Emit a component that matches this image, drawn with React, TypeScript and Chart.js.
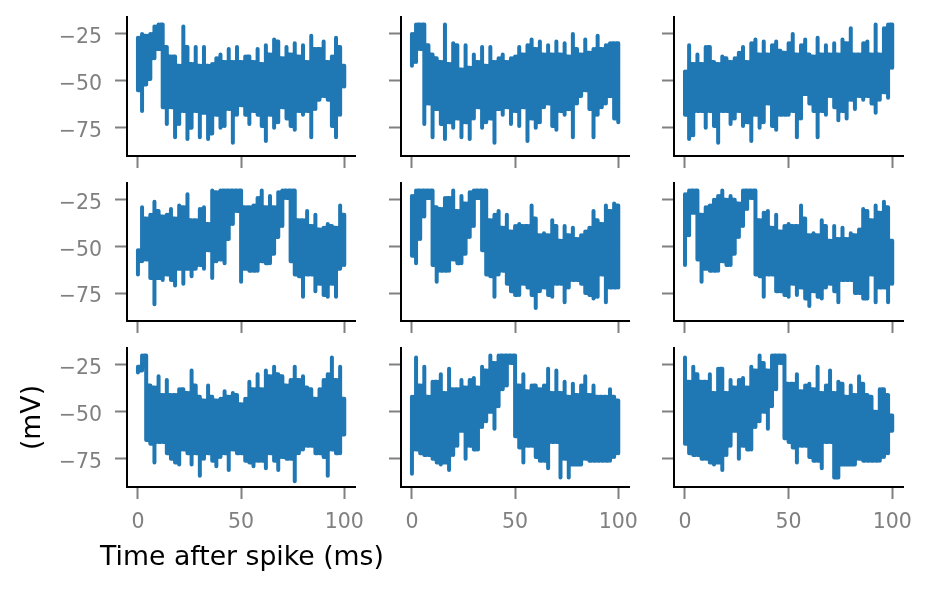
import React, { useEffect, useRef } from "react";
import { Chart, registerables } from "chart.js";

Chart.register(...registerables);

const xTicks = [0, 50, 100];
const yTicks = [-75, -50, -25];
const xTitle = "Time after spike (ms)";
const yTitle = "(mV)";

const p1Hi = [-27,-25,-26,-25,-21,-20,-20,-32,-37,-37,-42,-21,-32,-41,-32,-42,-32,-42,-41,-38,-36,-40,-33,-40,-32,-40,-37,-37,-40,-33,-41,-31,-36,-28,-29,-38,-32,-36,-30,-37,-31,-40,-26,-33,-33,-29,-40,-37,-27,-32,-42];
const p1Lo = [-55,-66,-52,-49,-38,-33,-64,-73,-64,-80,-73,-66,-81,-75,-66,-80,-67,-81,-78,-68,-75,-74,-65,-83,-68,-63,-68,-73,-66,-68,-74,-82,-68,-75,-72,-64,-70,-74,-76,-66,-68,-66,-80,-65,-60,-58,-60,-74,-80,-68,-53];
const p2Hi = [-25,-20,-20,-20,-31,-36,-38,-40,-20,-41,-30,-31,-44,-31,-43,-36,-40,-32,-42,-32,-40,-38,-36,-40,-38,-37,-32,-36,-31,-28,-33,-29,-36,-31,-36,-29,-36,-30,-37,-25,-33,-36,-28,-35,-33,-26,-33,-31,-30,-30,-30];
const p2Lo = [-42,-40,-33,-73,-62,-80,-65,-73,-81,-72,-75,-70,-80,-72,-81,-70,-64,-75,-72,-70,-83,-65,-68,-64,-73,-66,-74,-64,-82,-70,-75,-72,-64,-62,-74,-76,-66,-68,-65,-80,-62,-58,-55,-65,-80,-68,-64,-62,-58,-70,-72];
const p3Hi = [-45,-31,-41,-36,-41,-32,-32,-40,-41,-37,-38,-40,-38,-35,-32,-40,-30,-28,-36,-29,-36,-31,-29,-34,-35,-30,-25,-36,-31,-28,-36,-37,-27,-36,-31,-36,-30,-36,-28,-30,-22,-36,-36,-30,-29,-36,-20,-36,-22,-20,-20];
const p3Lo = [-68,-81,-79,-66,-66,-75,-66,-74,-83,-66,-66,-73,-70,-66,-74,-72,-82,-68,-75,-72,-62,-74,-76,-68,-68,-68,-66,-80,-70,-57,-62,-66,-80,-66,-68,-58,-64,-71,-66,-70,-60,-65,-58,-60,-58,-62,-67,-60,-56,-59,-43];
const p4Hi = [-52,-29,-35,-33,-26,-31,-34,-33,-30,-35,-28,-29,-22,-36,-36,-30,-29,-38,-20,-21,-20,-20,-20,-20,-20,-20,-29,-29,-28,-24,-20,-29,-23,-29,-21,-20,-20,-20,-20,-36,-36,-31,-39,-33,-41,-40,-38,-39,-40,-28,-33];
const p4Lo = [-65,-58,-57,-67,-81,-67,-68,-65,-68,-71,-62,-70,-62,-66,-62,-60,-62,-52,-67,-58,-57,-59,-46,-38,-31,-69,-62,-63,-63,-63,-58,-59,-59,-54,-45,-39,-24,-58,-65,-66,-77,-65,-65,-74,-70,-76,-77,-70,-77,-62,-60];
const p5Hi = [-23,-20,-20,-20,-20,-20,-29,-30,-24,-24,-20,-31,-23,-27,-21,-20,-20,-20,-20,-36,-33,-31,-40,-33,-42,-39,-38,-39,-39,-28,-35,-44,-43,-44,-36,-39,-47,-39,-44,-40,-46,-44,-42,-40,-31,-36,-38,-28,-31,-27,-28];
const p5Lo = [-55,-59,-46,-34,-24,-60,-69,-63,-63,-63,-57,-59,-59,-54,-45,-39,-24,-52,-65,-66,-77,-65,-63,-70,-74,-76,-76,-70,-72,-76,-83,-74,-72,-76,-77,-70,-70,-80,-72,-68,-68,-70,-75,-76,-78,-77,-65,-80,-72,-72,-72];
const p6Hi = [-22,-20,-20,-20,-33,-29,-28,-25,-23,-20,-25,-23,-25,-27,-20,-20,-20,-20,-36,-32,-31,-40,-33,-42,-39,-38,-39,-39,-28,-35,-44,-43,-44,-36,-39,-47,-39,-46,-40,-46,-43,-44,-41,-30,-31,-36,-28,-32,-26,-29,-47];
const p6Lo = [-60,-44,-32,-57,-69,-62,-63,-63,-63,-58,-60,-60,-54,-45,-39,-30,-24,-65,-66,-77,-65,-65,-74,-74,-76,-77,-70,-76,-72,-78,-82,-74,-77,-78,-72,-70,-74,-80,-68,-68,-68,-75,-75,-78,-78,-65,-80,-72,-72,-80,-70];
const p7Hi = [-28,-20,-20,-36,-37,-31,-41,-33,-41,-41,-38,-38,-40,-28,-36,-42,-44,-36,-42,-44,-43,-39,-42,-40,-41,-46,-43,-34,-38,-30,-38,-28,-31,-26,-30,-31,-36,-33,-26,-33,-31,-37,-38,-43,-38,-33,-30,-21,-33,-26,-43];
const p7Lo = [-29,-26,-65,-67,-77,-66,-66,-72,-75,-77,-78,-70,-72,-78,-72,-84,-75,-72,-76,-79,-74,-72,-81,-70,-72,-72,-76,-77,-79,-76,-76,-80,-72,-76,-81,-74,-75,-75,-87,-72,-70,-68,-68,-72,-72,-74,-84,-70,-72,-72,-62];
const p8Hi = [-42,-21,-36,-26,-42,-34,-34,-30,-40,-27,-38,-38,-33,-37,-33,-32,-37,-26,-28,-20,-24,-20,-20,-20,-20,-20,-36,-30,-39,-36,-36,-38,-36,-27,-40,-28,-40,-34,-42,-35,-41,-36,-31,-41,-36,-42,-42,-42,-38,-42,-44];
const p8Lo = [-83,-70,-72,-73,-73,-75,-77,-78,-77,-81,-73,-68,-60,-75,-68,-70,-70,-58,-55,-50,-59,-47,-38,-36,-24,-63,-69,-77,-68,-68,-74,-76,-76,-80,-66,-66,-85,-75,-85,-78,-78,-78,-75,-76,-76,-76,-76,-76,-76,-74,-72];
const p9Hi = [-21,-34,-26,-30,-34,-34,-30,-40,-27,-27,-40,-33,-37,-33,-32,-37,-26,-28,-20,-24,-28,-20,-20,-20,-20,-35,-35,-30,-39,-36,-35,-38,-26,-40,-36,-28,-40,-34,-35,-42,-36,-41,-31,-35,-41,-42,-50,-38,-38,-41,-52];
const p9Lo = [-67,-72,-73,-73,-75,-75,-77,-78,-77,-81,-73,-68,-60,-75,-68,-70,-70,-58,-55,-50,-59,-47,-38,-24,-64,-66,-69,-77,-68,-68,-74,-76,-76,-80,-66,-66,-85,-85,-78,-78,-78,-78,-75,-76,-76,-76,-76,-76,-74,-72,-60];

const panels = [
  [p1Hi, p1Lo], [p2Hi, p2Lo], [p3Hi, p3Lo],
  [p4Hi, p4Lo], [p5Hi, p5Lo], [p6Hi, p6Lo],
  [p7Hi, p7Lo], [p8Hi, p8Lo], [p9Hi, p9Lo],
];

const colLeft = [127, 401, 674];
const colRight = [355, 629, 903];
const rowTop = [17, 183, 348];
const rowBottom = [156, 321, 487];
const FONT = "'DejaVu Sans', sans-serif";
const GREY = "#808080";
const BLUE = "#1f77b4";

// Each reading is one tall excursion; the gap to the next is filled up to the
// range that both neighbours share, as a densely sampled trace would appear.
function trace(hi: number[], lo: number[]) {
  const pts: { x: number; y: number }[] = [];
  hi.forEach((h, i) => {
    const x = i * 2;
    pts.push({ x, y: h }, { x, y: lo[i] });
    if (i + 1 < hi.length) {
      const topMid = Math.min(h, hi[i + 1]);
      const botMid = Math.max(lo[i], lo[i + 1]);
      pts.push({ x, y: botMid }, { x: x + 1, y: botMid }, { x: x + 1, y: topMid }, { x: x + 2, y: topMid });
    }
  });
  return pts;
}

const xTitlePlugin = {
  id: "xTitleText",
  afterDraw(chart: any) {
    const { ctx, scales } = chart;
    const x = (scales.x.left + scales.x.right) / 2 + 1;
    ctx.save();
    ctx.font = `26.7px ${FONT}`;
    ctx.fillStyle = "#000";
    ctx.textAlign = "center";
    ctx.textBaseline = "middle";
    ctx.fillText(xTitle, x, scales.x.top + 71);
    ctx.restore();
  },
};

function Panel({ index }: { index: number }) {
  const ref = useRef<HTMLCanvasElement>(null);
  const c = index % 3;
  const r = Math.floor(index / 3);
  const ml = c === 0 ? 127 : 30;
  const mt = 10;
  const mr = 35;
  const plotW = colRight[c] - colLeft[c];
  const plotH = rowBottom[r] - rowTop[r];
  const mb = r === 2 ? 592 - rowBottom[r] : 20;
  const width = ml + plotW + mr;
  const height = mt + plotH + mb;
  const showX = r === 2;
  const showY = c === 0;
  const first = index === 6;

  useEffect(() => {
    const [hi, lo] = panels[index];
    const chart = new Chart(ref.current!, {
      type: "line",
      plugins: first ? [xTitlePlugin] : [],
      data: {
        datasets: [
          {
            data: trace(hi, lo),
            borderColor: BLUE,
            borderWidth: 4,
            pointRadius: 0,
            tension: 0,
            fill: false,
            borderCapStyle: "round",
            borderJoinStyle: "round",
            clip: false,
          },
        ],
      },
      options: {
        responsive: false,
        animation: false,
        events: [],
        layout: { autoPadding: false, padding: { top: mt, right: mr, left: 0, bottom: 0 } },
        plugins: { legend: { display: false }, tooltip: { enabled: false } },
        scales: {
          x: {
            type: "linear",
            min: -5.3,
            max: 105.2,
            afterBuildTicks: (s: any) => {
              s.ticks = xTicks.map((value) => ({ value }));
            },
            afterFit: (s: any) => {
              s.height = mb;
              s.paddingLeft = 0;
              s.paddingRight = 0;
            },
            border: { color: "#000", width: 2 },
            grid: { drawOnChartArea: false, drawTicks: true, tickLength: 12, tickColor: GREY, tickWidth: 2 },
            ticks: {
              display: showX,
              color: GREY,
              padding: 11,
              maxRotation: 0,
              autoSkip: false,
              font: { family: FONT, size: 20.5 },
            },
          },
          y: {
            type: "linear",
            min: -90,
            max: -16,
            afterBuildTicks: (s: any) => {
              s.ticks = yTicks.map((value) => ({ value }));
            },
            afterFit: (s: any) => {
              s.width = ml;
              s.paddingTop = 0;
              s.paddingBottom = 0;
            },
            border: { color: "#000", width: 2 },
            grid: { drawOnChartArea: false, drawTicks: true, tickLength: 12, tickColor: GREY, tickWidth: 2 },
            ticks: {
              display: showY,
              color: GREY,
              padding: 13,
              labelOffset: 4,
              autoSkip: false,
              font: { family: FONT, size: 20.5 },
              callback: (v: any) => String(v).replace("-", "\u2212"),
            },
            title: {
              display: first,
              text: yTitle,
              color: "#000",
              font: { family: FONT, size: 26.7 },
              padding: { top: 17, bottom: 0 },
            },
          },
        },
      },
    } as any);
    return () => chart.destroy();
  }, [index]);

  return (
    <canvas
      ref={ref}
      width={width}
      height={height}
      style={{
        position: "absolute",
        left: colLeft[c] - ml,
        top: rowTop[r] - mt,
        width,
        height,
        display: "block",
      }}
    />
  );
}

export default function App() {
  return (
    <div style={{ position: "absolute", left: 0, top: 0, width: 932, height: 592, background: "#fff", overflow: "hidden" }}>
      {panels.map((_, i) => (
        <Panel key={i} index={i} />
      ))}
    </div>
  );
}
